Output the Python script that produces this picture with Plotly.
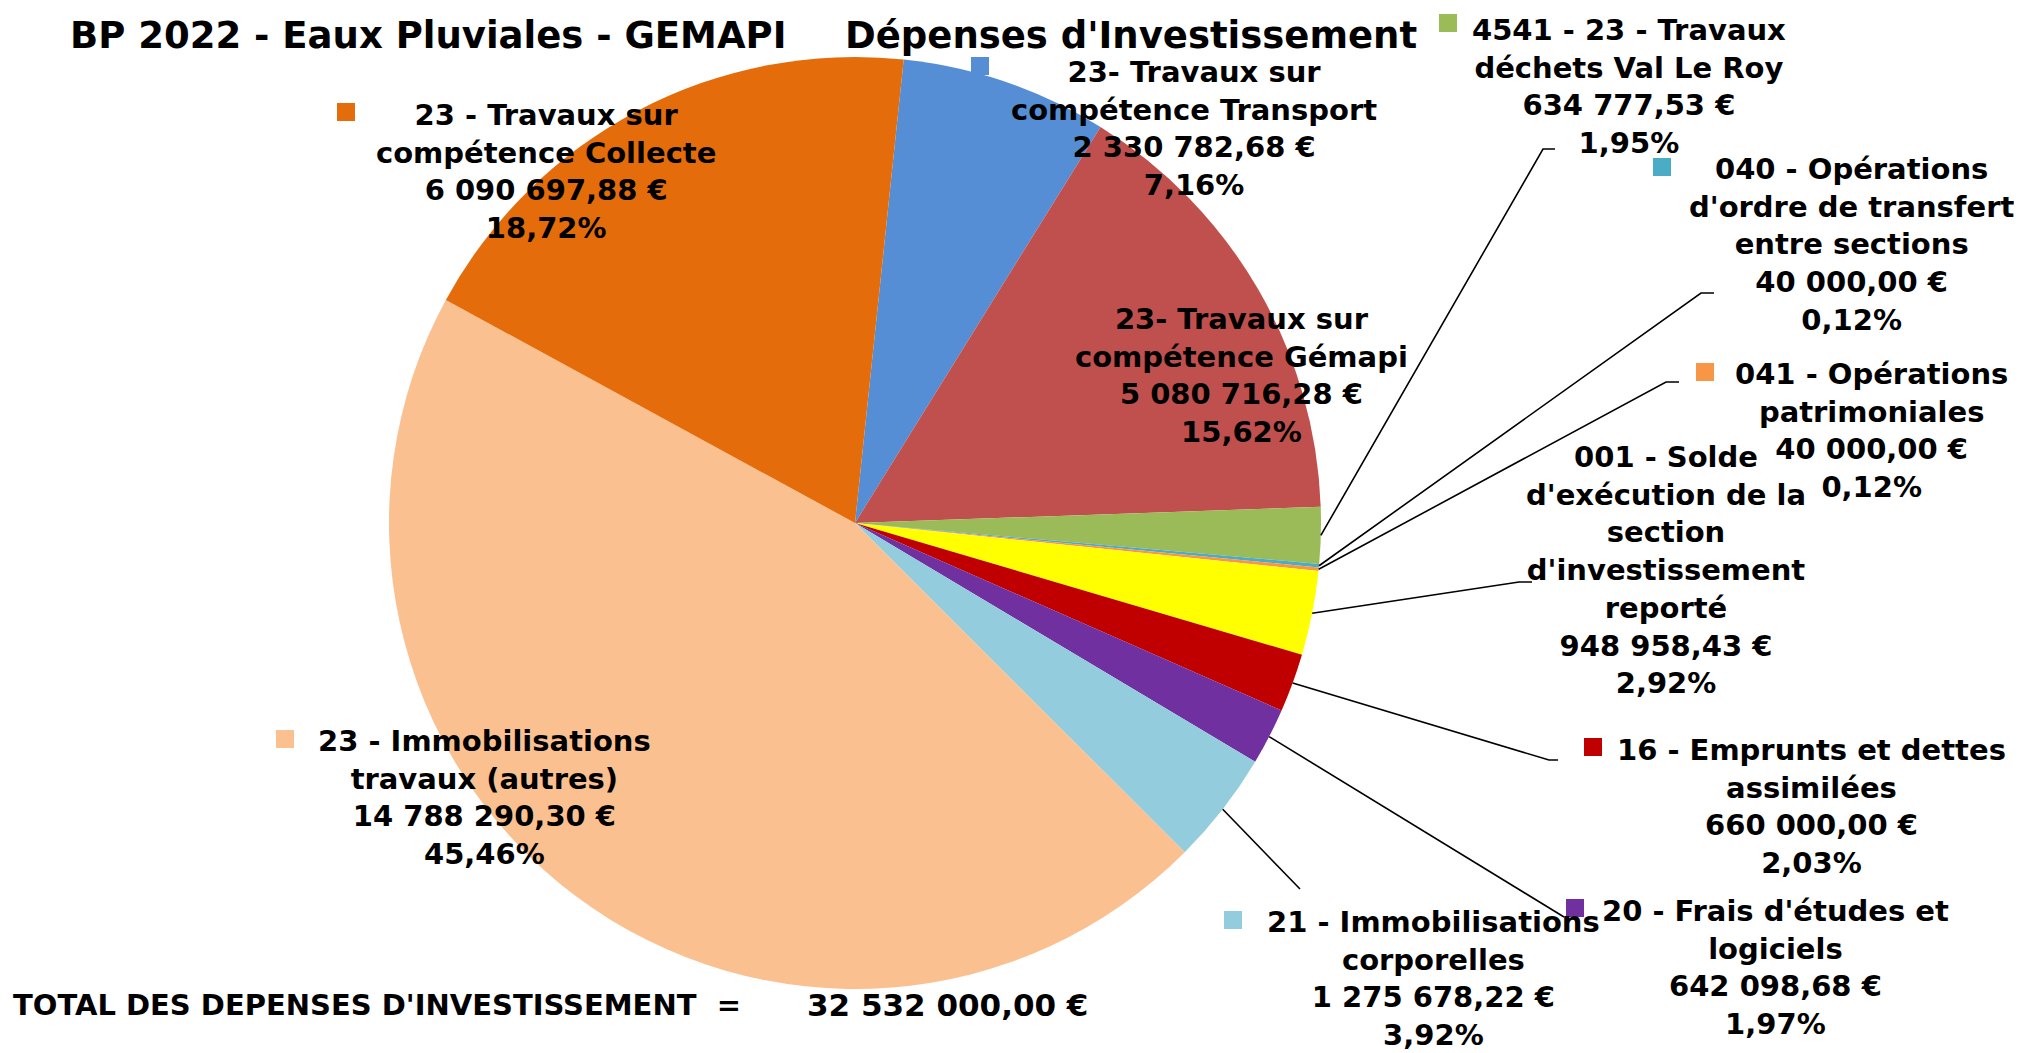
import math
import plotly.graph_objects as go

W, H = 2022, 1053

# ---------------- data ----------------
categories = [
    "23- Travaux sur compétence Transport",
    "23- Travaux sur compétence Gémapi",
    "4541 - 23 - Travaux déchets Val Le Roy",
    "040 - Opérations d'ordre de transfert entre sections",
    "041 - Opérations patrimoniales",
    "001 - Solde d'exécution de la section d'investissement reporté",
    "16 - Emprunts et dettes assimilées",
    "20 - Frais d'études et logiciels",
    "21 - Immobilisations corporelles",
    "23 - Immobilisations travaux (autres)",
    "23 - Travaux sur compétence Collecte",
]
label_lines = [
    ["23- Travaux sur", "compétence Transport"],
    ["23- Travaux sur", "compétence Gémapi"],
    ["4541 - 23 - Travaux", "déchets Val Le Roy"],
    ["040 - Opérations", "d'ordre de transfert", "entre sections"],
    ["041 - Opérations", "patrimoniales"],
    ["001 - Solde", "d'exécution de la", "section", "d'investissement", "reporté"],
    ["16 - Emprunts et dettes", "assimilées"],
    ["20 - Frais d'études et", "logiciels"],
    ["21 - Immobilisations", "corporelles"],
    ["23 - Immobilisations", "travaux (autres)"],
    ["23 - Travaux sur", "compétence Collecte"],
]
values = [2330782.68, 5080716.28, 634777.53, 40000.00, 40000.00, 948958.43,
          660000.00, 642098.68, 1275678.22, 14788290.30, 6090697.88]
colors = ["#558ED5", "#C0504D", "#9BBB59", "#4BACC6", "#F79646", "#FFFF00",
          "#C00000", "#7030A0", "#93CDDD", "#FAC090", "#E46C0A"]
title_left = "BP 2022 - Eaux Pluviales - GEMAPI"
title_right = "Dépenses d'Investissement"
total_label = "TOTAL DES DEPENSES D'INVESTISSEMENT  ="

total = sum(values)


def fr_money(v):
    s = f"{v:,.2f}"
    s = s.replace(",", " ").replace(".", ",")
    return s + " €"


def fr_pct(v):
    return f"{v:.2f}".replace(".", ",") + "%"


# ---------------- layout (pixels) ----------------
CX, CY, R = 847, 515, 466
ROTATION = 6
FONT = "DejaVu Sans"
FS = 29
DY = -9  # global vertical adjustment of texts/marks

label_pos = [  # text block centre
    (1186, 129), (1233, 376), (1621, 87), (1843, 245), (1863, 431),
    (1658, 571), (1803, 807), (1767, 968), (1425, 979), (476, 798), (538, 172),
]
square_pos = [
    (972, 67), None, (1440, 24), (1654, 168), (1697, 373),
    None, (1585, 748), (1567, 909), (1225, 921), (277, 740), (338, 113),
]
leader_pts = [  # label-side points of leader lines (from label towards slice)
    None, None,
    [(1547, 150), (1535, 150)],
    [(1706, 294), (1693, 294)],
    [(1671, 383), (1658, 383)],
    [(1524, 583), (1511, 583)],
    [(1550, 761), (1541, 761)],
    [(1556, 918)],
    [(1292, 890)],
    None, None,
]


def px(x):
    return x / W


def py(y):
    return 1 - y / H


fig = go.Figure(go.Pie(
    labels=categories,
    values=values,
    sort=False,
    direction="clockwise",
    rotation=ROTATION,
    marker=dict(colors=colors, line=dict(width=0)),
    textinfo="none",
    hovertemplate="%{label}<br>%{value:,.2f} €<br>%{percent}<extra></extra>",
    showlegend=False,
    domain=dict(x=[px(CX - R), px(CX + R)], y=[py(CY + R), py(CY - R)]),
))

annotations = []
shapes = []

# slice labels
for i, lines in enumerate(label_lines):
    text = "<br>".join(lines + [fr_money(values[i]), fr_pct(values[i] / total * 100)])
    lx, ly = label_pos[i]
    annotations.append(dict(
        x=px(lx), y=py(ly + DY), xref="paper", yref="paper", xanchor="center", yanchor="middle",
        text=text, showarrow=False, align="center",
        font=dict(family=FONT, size=FS, color="black", weight="bold"),
    ))
    if square_pos[i] is not None:
        sx, sy = square_pos[i]
        sy += DY
        shapes.append(dict(type="rect", xref="paper", yref="paper",
                           x0=px(sx - 9), x1=px(sx + 9), y0=py(sy + 9), y1=py(sy - 9),
                           fillcolor=colors[i], line=dict(width=0)))

# leader lines: slice edge computed from the data
cum = 0.0
for i, v in enumerate(values):
    mid = ROTATION + (cum + v / 2) / total * 360
    cum += v
    if leader_pts[i] is None:
        continue
    a = math.radians(mid)
    ex, ey = CX + R * math.sin(a), CY - R * math.cos(a)
    pts = [(x, y + DY) for x, y in leader_pts[i]] + [(ex, ey)]
    path = "M " + " L ".join(f"{px(x):.5f},{py(y):.5f}" for x, y in pts)
    shapes.append(dict(type="path", xref="paper", yref="paper", path=path,
                       line=dict(color="black", width=1.6)))

# title
annotations.append(dict(x=px(60), y=py(27), xref="paper", yref="paper", xanchor="left",
                        yanchor="middle", text=title_left, showarrow=False,
                        font=dict(family=FONT, size=37, color="black", weight="bold")))
annotations.append(dict(x=px(835), y=py(27), xref="paper", yref="paper", xanchor="left",
                        yanchor="middle", text=title_right, showarrow=False,
                        font=dict(family=FONT, size=37, color="black", weight="bold")))
# total
annotations.append(dict(x=px(3), y=py(1006 + DY), xref="paper", yref="paper", xanchor="left",
                        yanchor="middle", text=total_label, showarrow=False,
                        font=dict(family=FONT, size=29, color="black", weight="bold")))
annotations.append(dict(x=px(797), y=py(1006 + DY), xref="paper", yref="paper", xanchor="left",
                        yanchor="middle", text=fr_money(total), showarrow=False,
                        font=dict(family=FONT, size=31, color="black", weight="bold")))

fig.update_layout(
    width=W, height=H,
    margin=dict(l=0, r=0, t=0, b=0),
    paper_bgcolor="white", plot_bgcolor="white",
    annotations=annotations, shapes=shapes,
)

fig.write_html("out.html")
